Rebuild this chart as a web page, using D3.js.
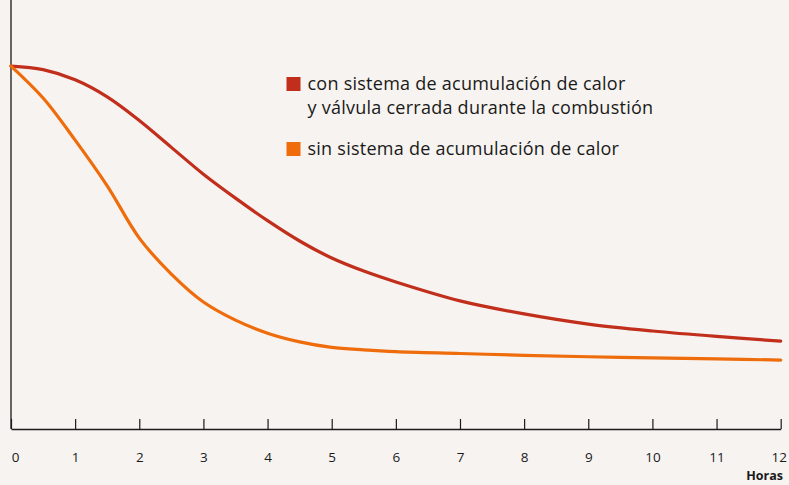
<!DOCTYPE html>
<html>
<head>
<meta charset="utf-8">
<script src="https://cdn.jsdelivr.net/npm/d3@7"></script>
<style>
    body { margin: 0; background: #f7f3f0; }
    svg { display: block; font-family: "Open Sans", "Noto Sans", sans-serif; }
</style>
</head>
<body>
<svg id="chart"></svg>
<script>
// Hours on the x axis
const hours = [0, 0.5, 1, 1.5, 2, 2.5, 3, 3.5, 4, 4.5, 5, 5.5, 6, 7, 8, 9, 10, 11, 12];
// Relative temperature (%)
const conAcumulacion = [100, 99.0, 96.2, 91.5, 85.0, 77.6, 70.2, 63.6, 57.4, 51.8, 47.1, 43.5, 40.5, 35.3, 31.7, 28.9, 27.0, 25.5, 24.2];
const sinAcumulacion = [100, 91.2, 79.6, 67.0, 52.6, 42.7, 35.0, 30.0, 26.4, 24.0, 22.5, 21.8, 21.3, 20.8, 20.3, 19.9, 19.6, 19.3, 19.0];
const tickValues = [0, 1, 2, 3, 4, 5, 6, 7, 8, 9, 10, 11, 12];
const legendLabels = [
    ["con sistema de acumulación de calor", "y válvula cerrada durante la combustión"],
    ["sin sistema de acumulación de calor"]
];
const colors = ["#c12e1b", "#ee6c0b"];

const width = 789, height = 485;
const margin = { top: 0, right: 8, bottom: 56, left: 11 };

const svg = d3.select("#chart")
    .attr("width", width)
    .attr("height", height);

svg.append("rect")
    .attr("width", width)
    .attr("height", height)
    .attr("fill", "#f7f3f0");

// scales
const x = d3.scaleLinear()
    .domain([0, 12])
    .range([margin.left, width - margin.right - 0.3]);

const y = d3.scaleLinear()
    .domain([0, 118.2])
    .range([height - margin.bottom, margin.top]);

// x axis, ticks pointing up
const xAxis = svg.append("g")
    .attr("transform", `translate(0, ${y(0)})`)
    .call(d3.axisBottom(x).tickValues(tickValues).tickSize(-10).tickSizeOuter(0))
    .attr("font-size", 13.5)
    .attr("font-family", null);

xAxis.select(".domain").attr("stroke", "#1a1a1a").attr("stroke-width", 1.3);
xAxis.selectAll(".tick line").attr("stroke", "#1a1a1a").attr("stroke-width", 1.2);
xAxis.selectAll(".tick text")
    .attr("y", 33)
    .attr("dy", null)
    .attr("fill", "#1a1a1a");
xAxis.selectAll(".tick").filter(d => d === 0).select("text").attr("dx", 4);
xAxis.selectAll(".tick").filter(d => d === 12).select("text").attr("dx", -2);

// y axis line
svg.append("line")
    .attr("x1", x(0))
    .attr("x2", x(0))
    .attr("y1", y(118.2))
    .attr("y2", y(0))
    .attr("stroke", "#1a1a1a")
    .attr("stroke-width", 1.3);

svg.append("text")
    .attr("x", width - 6)
    .attr("y", 480)
    .attr("text-anchor", "end")
    .style("font-size", "12.5px")
    .style("font-weight", "bold")
    .attr("fill", "#1a1a1a")
    .text("Horas");

// lines
const line = d3.line()
    .x((d, i) => x(hours[i]))
    .y(d => y(d))
    .curve(d3.curveCatmullRom.alpha(0.5));

[conAcumulacion, sinAcumulacion].forEach((series, i) => {
    svg.append("path")
        .datum(series)
        .attr("d", line)
        .attr("fill", "none")
        .attr("stroke", colors[i])
        .attr("stroke-width", 3.2)
        .attr("stroke-linecap", "round");
});

// legend
const legendY = [90, 155];
legendLabels.forEach((lines, i) => {
    svg.append("rect")
        .attr("x", 286.5)
        .attr("y", legendY[i] - 13)
        .attr("width", 14)
        .attr("height", 14)
        .attr("fill", colors[i]);

    const t = svg.append("text")
        .attr("x", 307.5)
        .attr("y", legendY[i])
        .style("font-size", "18px")
        .style("letter-spacing", "0.25px")
        .attr("fill", "#1a1a1a");

    lines.forEach((s, j) => {
        t.append("tspan")
            .attr("x", 307.5)
            .attr("dy", j === 0 ? 0 : 24)
            .text(s);
    });
});
</script>
</body>
</html>
